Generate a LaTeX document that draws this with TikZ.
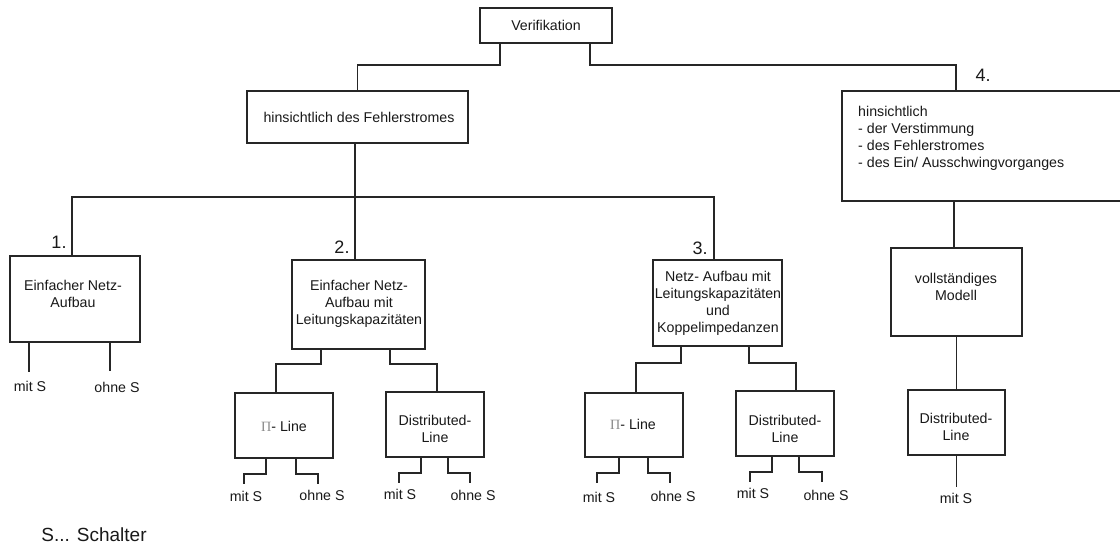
\documentclass[tikz,border=0pt]{standalone}
\usepackage{fontspec}
\setmainfont{Liberation Sans}
\newfontfamily\serifgr{Liberation Serif}
\begin{document}
\begin{tikzpicture}[x=1pt,y=-1pt,
  bx/.style={draw=black!85, line width=1.6pt, rectangle, inner sep=0pt},
  txt/.style={font=\fontsize{14.2}{17}\selectfont, align=center, inner sep=0pt, text=black!90},
  num/.style={font=\fontsize{18}{20}\selectfont, inner sep=0pt, text=black!90},
  lbl/.style={font=\fontsize{14.2}{17}\selectfont, inner sep=0pt, text=black!90},
  conn/.style={draw=black!85, line width=1.6pt}]
\clip (0,0) rectangle (1120,545);
\fill[white] (0,0) rectangle (1120,545);

% boxes
\node[bx, minimum width=132pt, minimum height=35pt] (ver) at (546,25.5) {};
\node[bx, minimum width=221pt, minimum height=52pt] (h1) at (357.5,117) {};
\node[bx, minimum width=288pt, minimum height=110pt] (b4) at (986,146) {};
\node[bx, minimum width=130pt, minimum height=86pt] (b1) at (75,299) {};
\node[bx, minimum width=133pt, minimum height=89pt] (b2) at (358.5,304.5) {};
\node[bx, minimum width=129pt, minimum height=86pt] (b3) at (717.5,303) {};
\node[bx, minimum width=131pt, minimum height=88pt] (vm) at (956.5,292) {};
\node[bx, minimum width=98pt, minimum height=65pt] (p1) at (284,425.5) {};
\node[bx, minimum width=98pt, minimum height=65pt] (d1) at (435,424.5) {};
\node[bx, minimum width=98pt, minimum height=64pt] (p2) at (634,425) {};
\node[bx, minimum width=98pt, minimum height=65pt] (d2) at (785,423.5) {};
\node[bx, minimum width=97pt, minimum height=65pt] (d3) at (956.5,422.5) {};

% box texts
\node[txt] (tver) at (546,25) {Verifikation};
\node[txt] (th1) at (359,117) {hinsichtlich des Fehlerstromes};
\node[txt, align=left, anchor=west] (tb4) at (858,138.5) {hinsichtlich\\- der Verstimmung\\- des Fehlerstromes\\- des Ein/ Ausschwingvorganges};
\node[txt] (tb1) at (73,293.5) {Einfacher Netz-\\Aufbau};
\node[txt] (tb2) at (359,303.5) {Einfacher Netz-\\Aufbau mit\\Leitungskapazit\"aten};
\node[txt] (tb3) at (718,303) {Netz- Aufbau mit\\Leitungskapazit\"aten\\und\\Koppelimpedanzen};
\node[txt] (tvm) at (956,286.5) {vollst\"andiges\\Modell};
\node[txt] (tp1) at (284,426) {{\serifgr\color{black!45}Π}- Line};
\node[txt] (td1) at (435,429) {Distributed-\\Line};
\node[txt] (tp2) at (633,424) {{\serifgr\color{black!45}Π}- Line};
\node[txt] (td2) at (785,428.5) {Distributed-\\Line};
\node[txt] (td3) at (956,427) {Distributed-\\Line};

% numbers
\node[num] (n1) at (59,242) {1.};
\node[num] (n2) at (342,247) {2.};
\node[num] (n3) at (700,248) {3.};
\node[num] (n4) at (983,75) {4.};

% connectors top
\coordinate (bus) at (355,197);
\draw[conn] ([xshift=20.7pt]ver.south west) |- ([yshift=25pt]h1.north) -- (h1.north);
\draw[conn] ([xshift=-23pt]ver.south east) |- ([xshift=115pt,yshift=25pt]b4.north west) -- ([xshift=115pt]b4.north west);
\draw[conn] (bus |- h1.south) -- (bus) -- (bus |- b2.north);
\draw[conn] ([xshift=-3pt]b1.north) |- (bus) -| ([xshift=-3.5pt]b3.north);
\draw[conn] ([xshift=113pt]b4.south west) -- ([xshift=113pt]b4.south west |- vm.north);
\draw[conn] (vm.south) -- (d3.north);

% box 1 leaves
\draw[conn] ([xshift=20pt]b1.south west) -- ++(0,29) coordinate (b1l);
\draw[conn] ([xshift=101pt]b1.south west) -- ++(0,28) coordinate (b1r);
\node[lbl] (m1) at (30,386) {mit S};
\node[lbl] (o1) at (117,387) {ohne S};

% box 2 children
\draw[conn] ([xshift=30pt]b2.south west) -- ++(0,14) -| ([xshift=-8pt]p1.north);
\draw[conn] ([xshift=99pt]b2.south west) -- ++(0,14) -| ([xshift=2pt]d1.north);
% box 3 children
\draw[conn] ([xshift=29pt]b3.south west) -- ++(0,16) -| ([xshift=2pt]p2.north);
\draw[conn] ([xshift=97pt]b3.south west) -- ++(0,16) -| ([xshift=11pt]d2.north);

% p1 leaves
\draw[conn] ([xshift=32pt]p1.south west) -- ++(0,15) -- ++(-22,0) -- ++(0,10);
\draw[conn] ([xshift=62pt]p1.south west) -- ++(0,15) -- ++(22,0) -- ++(0,10);
\node[lbl] (m2) at (246,496) {mit S};
\node[lbl] (o2) at (322,495) {ohne S};
% d1 leaves
\draw[conn] ([xshift=36pt]d1.south west) -- ++(0,15) -- ++(-22,0) -- ++(0,10);
\draw[conn] ([xshift=63pt]d1.south west) -- ++(0,15) -- ++(22,0) -- ++(0,10);
\node[lbl] (m3) at (400,494) {mit S};
\node[lbl] (o3) at (473,495) {ohne S};
% p2 leaves
\draw[conn] ([xshift=35pt]p2.south west) -- ++(0,15) -- ++(-22,0) -- ++(0,10);
\draw[conn] ([xshift=64pt]p2.south west) -- ++(0,15) -- ++(22,0) -- ++(0,10);
\node[lbl] (m4) at (599,497) {mit S};
\node[lbl] (o4) at (673,496) {ohne S};
% d2 leaves
\draw[conn] ([xshift=37pt]d2.south west) -- ++(0,15) -- ++(-22,0) -- ++(0,10);
\draw[conn] ([xshift=64pt]d2.south west) -- ++(0,15) -- ++(23,0) -- ++(0,10);
\node[lbl] (m5) at (753,493) {mit S};
\node[lbl] (o5) at (826,495) {ohne S};
% d3 leaf
\draw[conn] (d3.south) -- ++(0,31);
\node[lbl] (m6) at (956,498) {mit S};

\node[font=\fontsize{19}{22}\selectfont, inner sep=0pt, text=black!90] (leg) at (94,535) {S... Schalter};
\end{tikzpicture}
\end{document}
